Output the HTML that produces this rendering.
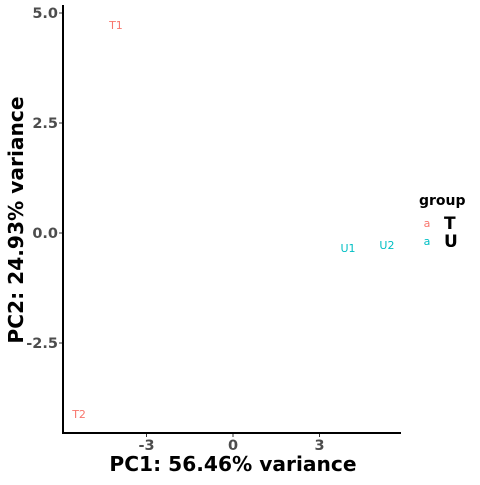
<!DOCTYPE html>
<html><head><meta charset="utf-8"><style>
body{margin:0;background:#fff;width:480px;height:480px;overflow:hidden}
svg text{font-family:"DejaVu Sans","Liberation Sans",sans-serif}
</style></head><body>
<svg id="chart" width="480" height="480">
<g id="axes"></g><g id="marks"></g>
<text x="233" y="471" text-anchor="middle" font-size="20.2" font-weight="bold">PC1: 56.46% variance</text>
<text transform="translate(23,220) rotate(-90)" text-anchor="middle" font-size="20.2" font-weight="bold">PC2: 24.93% variance</text>
<g>
<text x="419" y="205" font-size="14" font-weight="bold">group</text>
<g><text x="427" y="227" font-size="11" fill="#F8766D" text-anchor="middle">a</text><text x="444" y="229" font-size="17" font-weight="bold">T</text></g>
<g><text x="427" y="245" font-size="11" fill="#00BFC4" text-anchor="middle">a</text><text x="444" y="247" font-size="17" font-weight="bold">U</text></g>
</g>
</svg>
<script>
const labels=["T1","T2","U1","U2"];
const groups=["T","T","U","U"];
const pc1=[-4.06,-5.34,3.99,5.34];
const pc2=[4.73,-4.11,-0.34,-0.27];
const xTicks=[-3,0,3];
const yTicks=[5.0,2.5,0.0,-2.5];
const colors={T:"#F8766D",U:"#00BFC4"};
const sx=v=>233+v*28.83, sy=v=>233-v*44;
const NS="http://www.w3.org/2000/svg";
function mk(t,a,p){const e=document.createElementNS(NS,t);for(const k in a)e.setAttribute(k,a[k]);p.appendChild(e);return e;}
const ax=document.getElementById('axes'), mg=document.getElementById('marks');
let l=mk('line',{x1:63,y1:5,x2:63,y2:433.5,stroke:'#000','stroke-width':2},ax);


l=mk('line',{x1:62,y1:433,x2:401,y2:433,stroke:'#000','stroke-width':2},ax);


xTicks.forEach(v=>{
 mk('line',{x1:sx(v),y1:434,x2:sx(v),y2:437,stroke:'#333'},ax);
 const t=mk('text',{x:sx(v),y:450,'text-anchor':'middle','font-size':14.5,'font-weight':'bold',fill:'#4d4d4d'},ax);t.textContent=v;
 
 
});
yTicks.forEach(v=>{
 mk('line',{x1:59,y1:sy(v),x2:62,y2:sy(v),stroke:'#333'},ax);
 const t=mk('text',{x:58,y:sy(v)+5,'text-anchor':'end','font-size':14.5,'font-weight':'bold',fill:'#4d4d4d'},ax);t.textContent=v.toFixed(1);
 
 
});
labels.forEach((s,i)=>{
 const t=mk('text',{x:sx(pc1[i]),y:sy(pc2[i])+4,'text-anchor':'middle','font-size':11,fill:colors[groups[i]]},mg);t.textContent=s;
 
 
});
</script>
</body></html>
